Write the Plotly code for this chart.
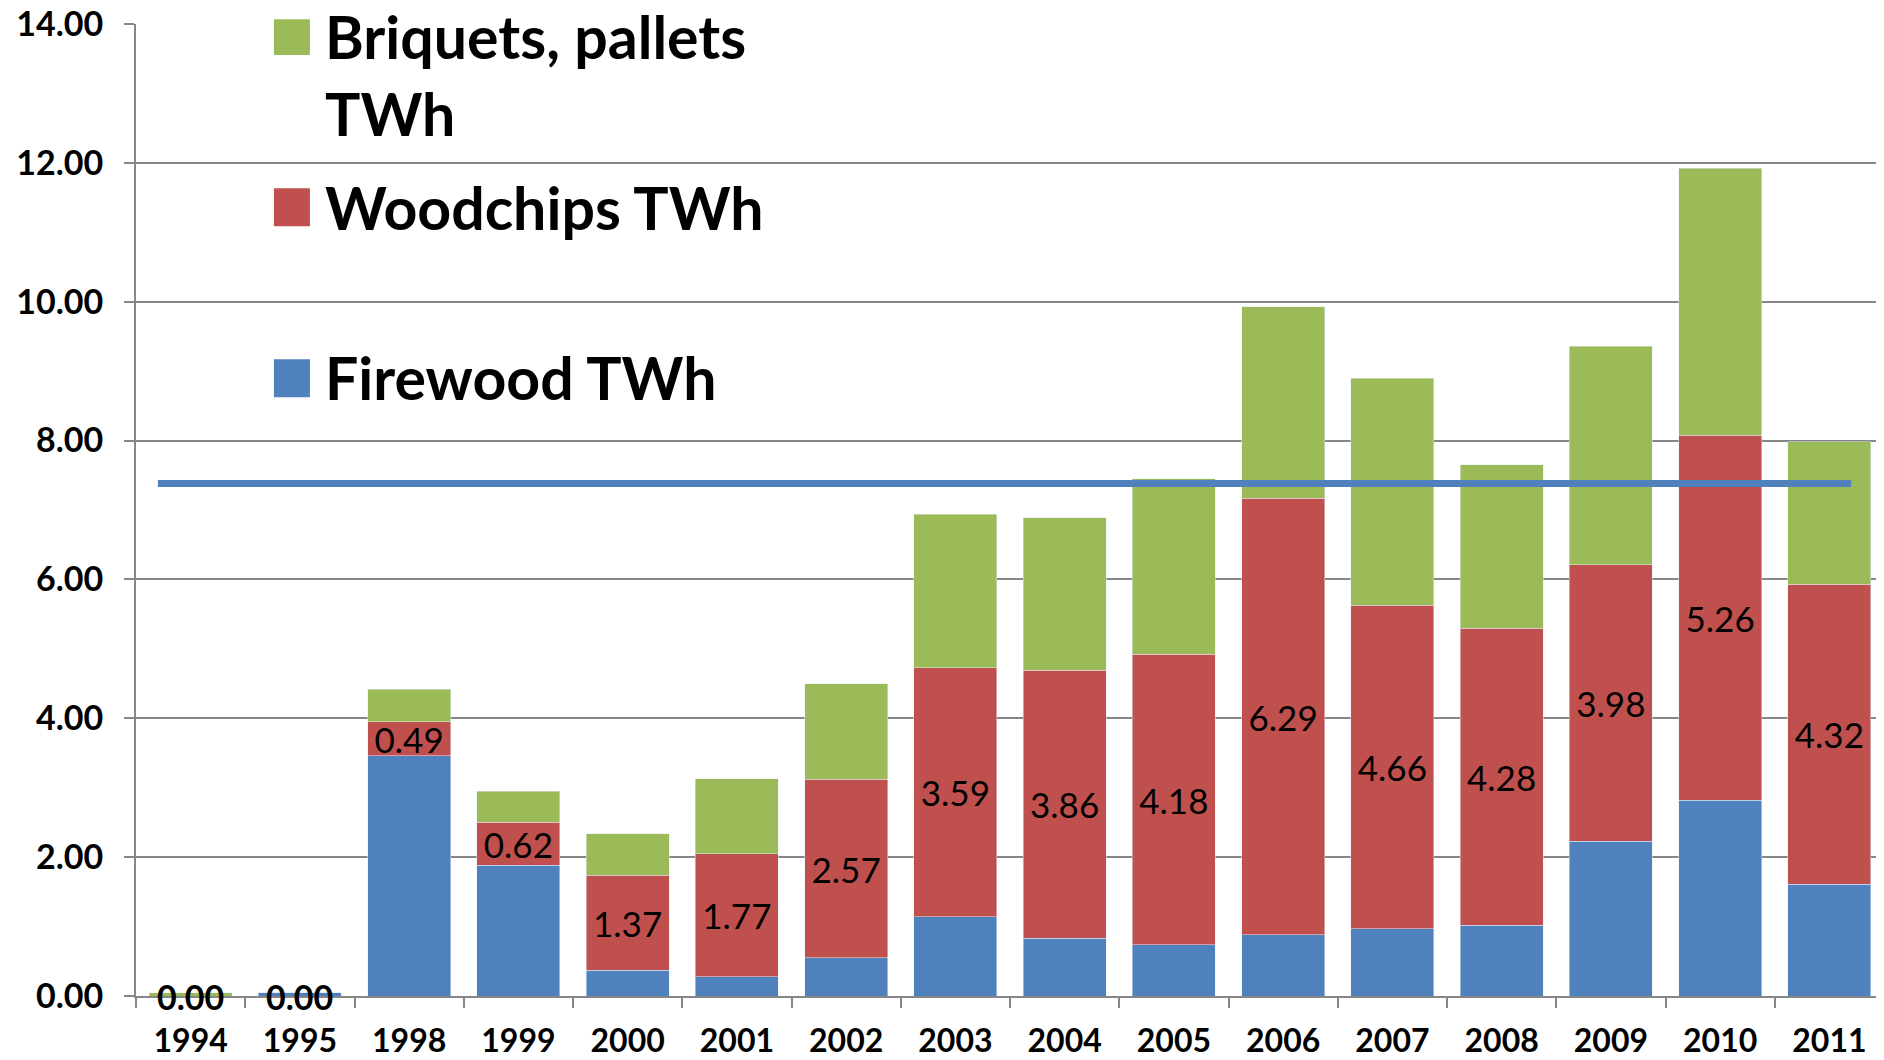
import plotly.graph_objects as go

# data (TWh)
years = ["1994", "1995", "1998", "1999", "2000", "2001", "2002", "2003",
         "2004", "2005", "2006", "2007", "2008", "2009", "2010", "2011"]
firewood = [0.00, 0.05, 3.46, 1.88, 0.37, 0.28, 0.55, 1.14,
            0.83, 0.74, 0.88, 0.97, 1.02, 2.23, 2.82, 1.61]
woodchips = [0.00, 0.00, 0.49, 0.62, 1.37, 1.77, 2.57, 3.59,
             3.86, 4.18, 6.29, 4.66, 4.28, 3.98, 5.26, 4.32]
briquets = [0.05, 0.00, 0.47, 0.45, 0.60, 1.08, 1.38, 2.21,
            2.20, 2.53, 2.76, 3.27, 2.35, 3.15, 3.84, 2.05]
target = 7.38

series_names = ["Firewood TWh", "Woodchips TWh", "Briquets, pallets<br>TWh"]
colors = ["#4F81BD", "#C0504D", "#9BBB59"]

FONT = "Lato"
GRID = "#868686"

fig = go.Figure()

fig.add_trace(go.Bar(x=years, y=firewood, name=series_names[0],
                     marker_color=colors[0]))
fig.add_trace(go.Bar(x=years, y=woodchips, name=series_names[1],
                     marker_color=colors[1],
                     text=[f"{v:.2f}" for v in woodchips],
                     textposition="inside", insidetextanchor="middle",
                     textangle=0,
                     textfont=dict(family=FONT, size=35, color="black")))
fig.add_trace(go.Bar(x=years, y=briquets, name=series_names[2],
                     marker_color=colors[2]))

# zero-height woodchips bars get no inside text, so label them by hand
# (annotations on a category axis take the category index)
for i, v in enumerate(woodchips):
    if v == 0:
        fig.add_annotation(x=i, y=v, text=f"{v:.2f}", showarrow=False,
                           xanchor="center", yanchor="middle",
                           font=dict(family=FONT, size=34, color="black",
                                     weight="bold"))

# horizontal reference line
fig.add_shape(type="line", xref="x", yref="y", x0=-0.3, x1=15.2,
              y0=target, y1=target, line=dict(color=colors[0], width=7),
              layer="above")

# hand-made legend: big square swatches with big bold text
legend_rows = [  # (series index, swatch y0, swatch y1, text y)
    (2, 0.968, 1.005, 0.9475),
    (1, 0.792, 0.831, 0.8117),
    (0, 0.616, 0.655, 0.636),
]
for idx, y0, y1, ty in legend_rows:
    fig.add_shape(type="rect", xref="paper", yref="paper",
                  x0=0.0789, x1=0.0995, y0=y0, y1=y1,
                  fillcolor=colors[idx], line_width=0, layer="above")
    fig.add_annotation(xref="paper", yref="paper", x=0.107, y=ty,
                       xanchor="left", yanchor="middle", align="left",
                       showarrow=False, text=series_names[idx],
                       font=dict(family=FONT, size=59, color="black",
                                 weight="bold"))

# page body has an 8px margin, so the figure is 8px smaller each way
fig.update_layout(
    barmode="stack",
    bargap=0.24,
    width=1876,
    height=1052,
    margin=dict(l=128, r=0, t=16, b=64),
    plot_bgcolor="white",
    paper_bgcolor="white",
    showlegend=False,
    uniformtext=dict(minsize=33, mode="show"),
)
fig.update_xaxes(
    type="category",
    automargin=False,
    showline=True, linecolor=GRID, linewidth=2,
    ticks="outside", tickson="boundaries", ticklen=10,
    tickcolor=GRID, tickwidth=2,
    ticklabelstandoff=16,
    tickfont=dict(family=FONT, size=32, color="black", weight="bold"),
    layer="below traces",
)
fig.update_yaxes(
    range=[0, 14], dtick=2, tickformat=".2f",
    automargin=False,
    showgrid=True, gridcolor=GRID, gridwidth=2,
    showline=True, linecolor=GRID, linewidth=2,
    ticks="outside", ticklen=10, tickcolor=GRID, tickwidth=2,
    zeroline=False,
    ticklabelstandoff=14,
    ticklabeloverflow="allow",
    tickfont=dict(family=FONT, size=34, color="black", weight="bold"),
)

fig.write_html("out.html")
